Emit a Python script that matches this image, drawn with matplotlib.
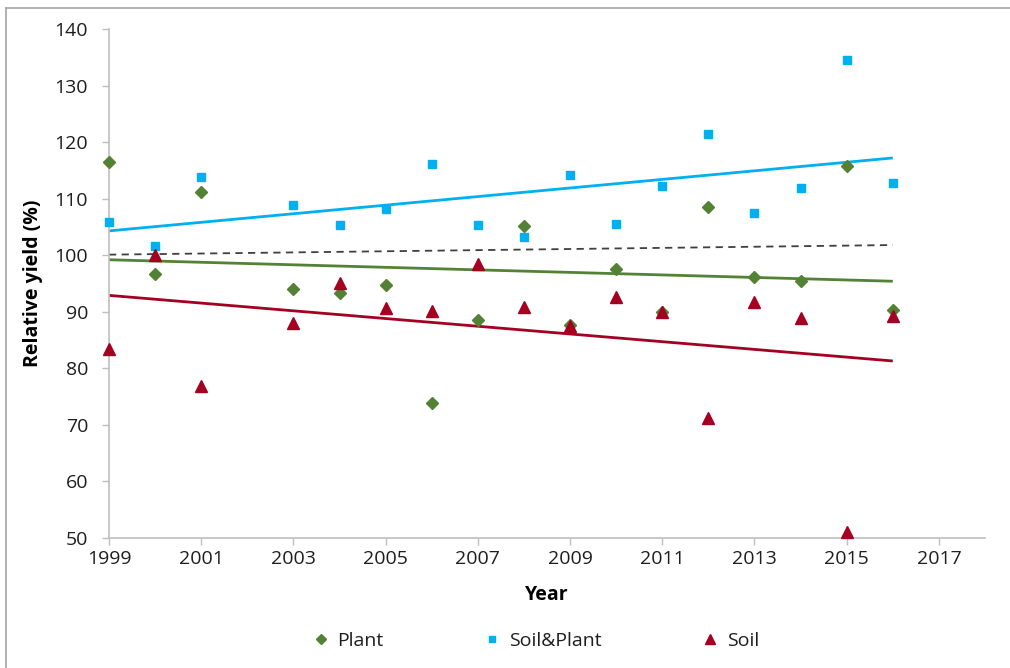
import matplotlib
matplotlib.use("Agg")
import matplotlib.pyplot as plt
from matplotlib.lines import Line2D

plt.rcParams['font.family'] = ['Open Sans', 'DejaVu Sans']

years = [1999, 2000, 2001, 2003, 2004, 2005, 2006, 2007, 2008,
         2009, 2010, 2011, 2012, 2013, 2014, 2015, 2016]
plant = [116.4, 96.6, 111.2, 94.0, 93.3, 94.8, 73.8, 88.6, 105.2,
         87.7, 97.5, 90.0, 108.6, 96.2, 95.5, 115.7, 90.3]
soil_plant = [105.8, 101.6, 113.9, 108.8, 105.4, 108.1, 116.1, 105.4, 103.2,
              114.1, 105.5, 112.2, 121.4, 107.5, 111.8, 134.5, 112.7]
soil = [83.4, 100.0, 76.9, 88.0, 95.0, 90.7, 90.2, 98.5, 90.9,
        87.4, 92.7, 89.9, 71.3, 91.7, 88.9, 51.1, 89.3]

trend_years = [1999, 2016]
trend_plant = [99.2, 95.4]
trend_soil_plant = [104.3, 117.2]
trend_soil = [92.9, 81.3]
trend_ref = [100.1, 101.8]

x_ticks = [1999, 2001, 2003, 2005, 2007, 2009, 2011, 2013, 2015, 2017]
y_ticks = [50, 60, 70, 80, 90, 100, 110, 120, 130, 140]

c_plant = '#548235'
c_sp = '#00B0F0'
c_soil = '#A50021'
c_ref = '#404040'
c_axis = '#BFBFBF'
c_text = '#1E1E1E'

fig = plt.figure(figsize=(10.1, 6.68), dpi=100)
ax = fig.add_axes([109/1010, 1-538/668, (985-109)/1010, (538-29)/668])

ax.plot(trend_years, trend_soil_plant, color=c_sp, lw=2.0, solid_capstyle='butt', zorder=2)
ax.plot(trend_years, trend_plant, color=c_plant, lw=2.0, solid_capstyle='butt', zorder=2)
ax.plot(trend_years, trend_soil, color=c_soil, lw=2.0, solid_capstyle='butt', zorder=2)
ax.plot(trend_years, trend_ref, color=c_ref, lw=1.3, linestyle=(0, (4, 3)), zorder=2)

ax.plot(years, plant, linestyle='none', marker='D', ms=6, color=c_plant, zorder=3, clip_on=False)
ax.plot(years, soil_plant, linestyle='none', marker='s', ms=5.5, color=c_sp, zorder=3, clip_on=False)
ax.plot(years, soil, linestyle='none', marker='^', ms=8, color=c_soil, zorder=3, clip_on=False)

ax.set_xlim(1999, 2018)
ax.set_ylim(50, 140)
ax.set_xticks(x_ticks)
ax.set_yticks(y_ticks)
ax.tick_params(axis='both', colors=c_axis, labelcolor=c_text, labelsize=14,
               length=5, width=1)
ax.tick_params(axis='x', pad=4)
ax.tick_params(axis='y', pad=10)
for s in ['top', 'right']:
    ax.spines[s].set_visible(False)
for s in ['left', 'bottom']:
    ax.spines[s].set_color(c_axis)
    ax.spines[s].set_linewidth(1.2)

ax.set_xlabel('Year', fontsize=14, fontweight='bold', color='black', labelpad=12)
ax.set_ylabel('Relative yield (%)', fontsize=14, fontweight='bold', color='black', labelpad=8)

handles = [
    Line2D([], [], linestyle='none', marker='D', ms=5, color=c_plant),
    Line2D([], [], linestyle='none', marker='s', ms=5, color=c_sp),
    Line2D([], [], linestyle='none', marker='^', ms=7, color=c_soil),
]
leg = fig.legend(handles, ['Plant', 'Soil&Plant', 'Soil'], loc='center',
                 bbox_to_anchor=(535/1010, 1-641/668), ncol=3, frameon=False,
                 fontsize=14, columnspacing=5.1, handlelength=1.0, handletextpad=0.35)
for t in leg.get_texts():
    t.set_color(c_text)

# outer chart border (left and top visible)
fig.add_artist(Line2D([6/1010, 6/1010], [0, 1-8/668], color='#A6A6A6', lw=1.2,
                      transform=fig.transFigure))
fig.add_artist(Line2D([6/1010, 1], [1-8/668, 1-8/668], color='#A6A6A6', lw=1.2,
                      transform=fig.transFigure))

fig.savefig('out.png', dpi=100)
